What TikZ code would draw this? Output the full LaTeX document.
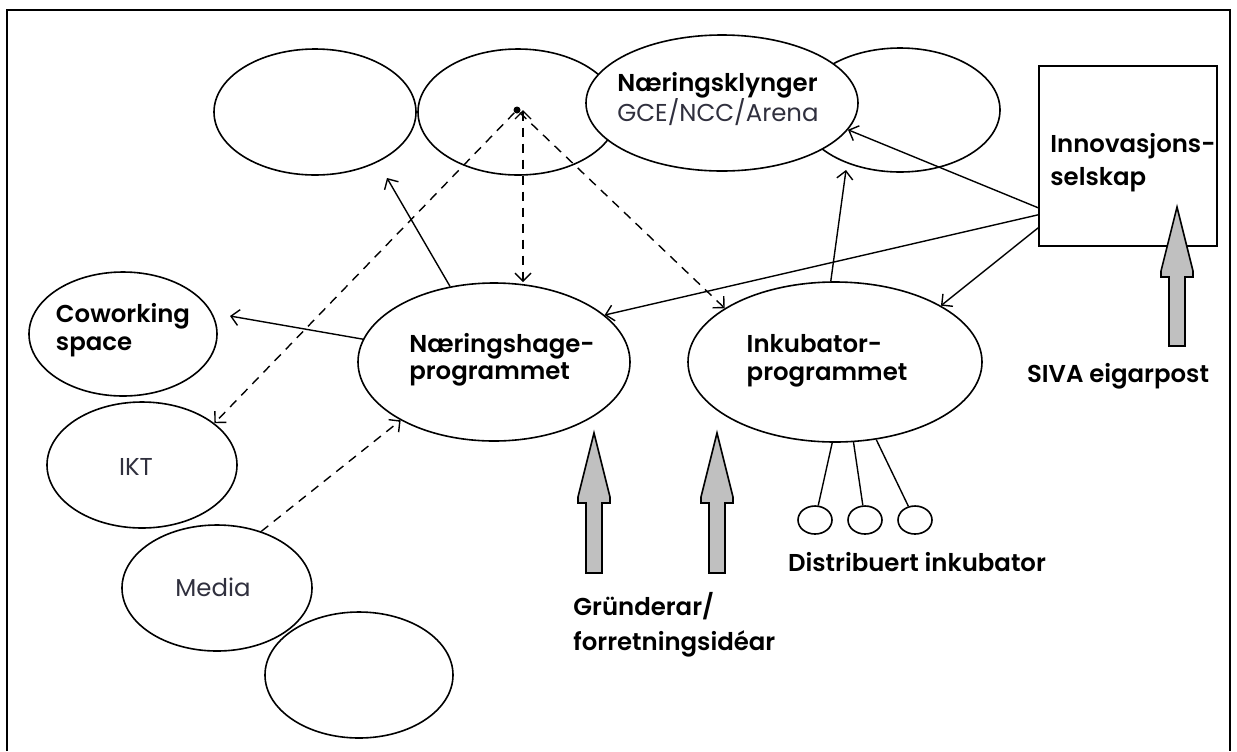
\documentclass[tikz,border=0pt]{standalone}
\usepackage{fontspec}
\setmainfont{Poppins}[BoldFont={Poppins SemiBold}]
\usetikzlibrary{shapes.geometric,arrows.meta}
\definecolor{arrowgray}{HTML}{C0C0C0}
\definecolor{txtgray}{HTML}{30303E}

\tikzset{
    blob/.style={draw,ellipse,fill=white,line width=0.8pt,inner sep=0pt},
    heavy/.style={font=\bfseries\fontsize{12.2}{14}\selectfont,align=left,inner sep=0pt},
    thin/.style={font=\mdseries\fontsize{12.2}{14}\selectfont,text=txtgray,inner sep=0pt},
    link/.style={line width=0.7pt,->},
    dlink/.style={line width=0.7pt,dash pattern=on 4.5pt off 3.5pt},
    bigarrow/.style={draw,fill=arrowgray,line width=0.8pt,line join=miter},
}

\begin{document}
\begin{tikzpicture}[x=0.5pt,y=-0.5pt,>={Straight Barb[length=4pt,width=8pt]}]
    \useasboundingbox (0,0) rectangle (1237,751);
    \draw[line width=1.2pt] (7,751) -- (7,10) -- (1230,10) -- (1230,751);

    % top row
    \node[blob,minimum width=101pt,minimum height=63pt] (e1) at (315,112) {};
    \node[blob,minimum width=100pt,minimum height=63pt] (e2) at (518,112) {};
    \node[blob,minimum width=100pt,minimum height=62pt] (e4) at (900,110) {};
    \node[blob,minimum width=136pt,minimum height=68pt] (e3) at (722,103) {};
    \node[circle,fill=black,inner sep=0pt,minimum size=3.5pt] (dot) at (517,110) {};

    % left column
    \node[blob,minimum width=94pt,minimum height=62pt] (cw) at (123,334) {};
    \node[blob,minimum width=95pt,minimum height=63pt] (ikt) at (142,465) {};
    \node[blob,minimum width=95pt,minimum height=63pt] (media) at (217,588) {};
    \node[blob,minimum width=94pt,minimum height=63pt] (e5) at (359,675) {};

    % programmes
    \node[blob,minimum width=136pt,minimum height=79pt] (nh) at (494,362) {};
    \node[blob,minimum width=147pt,minimum height=80pt] (ik) at (835,362) {};
    \node[draw,line width=0.8pt,minimum width=89pt,minimum height=90pt,inner sep=0pt] (box) at (1128,156) {};

    % distributed incubator
    \node[blob,minimum width=17pt,minimum height=14pt] (c1) at (815,520) {};
    \node[blob,minimum width=17pt,minimum height=14pt] (c2) at (865,520) {};
    \node[blob,minimum width=17pt,minimum height=14pt] (c3) at (915,520) {};

    % labels
    \node[heavy] (e3label) at (718,99) {Næringsklynger\\[-0.5pt]{\mdseries\color{txtgray}GCE/NCC/Arena}};
    \node[heavy] (cwlabel) at (123,330) {Coworking\\space};
    \node[thin] (iktlabel) at (136,467) {IKT};
    \node[thin] (medialabel) at (213,587) {Media};
    \node[heavy] (nhlabel) at (502,360) {Næringshage-\\[-0.5pt]programmet};
    \node[heavy] (iklabel) at (827,361) {Inkubator-\\programmet};
    \node[heavy,anchor=west] (boxlabel) at (1050,163) {Innovasjons-\\[2.5pt]selskap};
    \node[heavy,anchor=base] (sivalabel) at (1118,382) {SIVA eigarpost};
    \node[heavy,anchor=base] (distlabel) at (917,571) {Distribuert inkubator};
    \node[heavy,anchor=west] (grlabel) at (573,625) {Gründerar/\\[3.5pt]forretningsidéar};

    % free ends
    \coordinate (e1tip) at (387,178);
    \coordinate (cwtip) at (230,316);
    \coordinate (e4tip) at (846,170);
    \coordinate (vtop) at ([xshift=3pt]dot.center);

    % solid arrows
    \draw[link] (nh) -- (e1tip);
    \draw[link] (nh) -- (cwtip);
    \draw[link] (ik.93) -- (e4tip);
    \draw[link] ([yshift=19.5pt]box.south west) -- (e3.-12);
    \draw[link] ([yshift=16pt]box.south west) -- (nh.23);
    \draw[link] ([yshift=9.5pt]box.south west) -- (ik.28);

    % dashed arrows
    \draw[dlink,<->] (vtop) -- (vtop |- nh.north);
    \draw[dlink,->] (dot) -- (ikt.30);
    \draw[dlink,->] (dot) -- (ik.154);
    \draw[dlink,->] (media.52) -- (nh.212);

    % small incubators
    \draw[line width=0.7pt] (ik.268) -- (c1);
    \draw[line width=0.7pt] (ik.283) -- (c2);
    \draw[line width=0.7pt] (ik.298) -- (c3);

    % input arrows
    \draw[bigarrow] (586,573) -- (586,503) -- (578,503) -- (578,497) -- (594,433) -- (610,497) -- (610,503) -- (602,503) -- (602,573) -- cycle;
    \draw[bigarrow] (709,573) -- (709,503) -- (701,503) -- (701,497) -- (717,433) -- (733,497) -- (733,503) -- (725,503) -- (725,573) -- cycle;
    \draw[bigarrow] (1169,346) -- (1169,277) -- (1161,277) -- (1161,271) -- (1177,207) -- (1193,271) -- (1193,277) -- (1185,277) -- (1185,346) -- cycle;
\end{tikzpicture}
\end{document}
